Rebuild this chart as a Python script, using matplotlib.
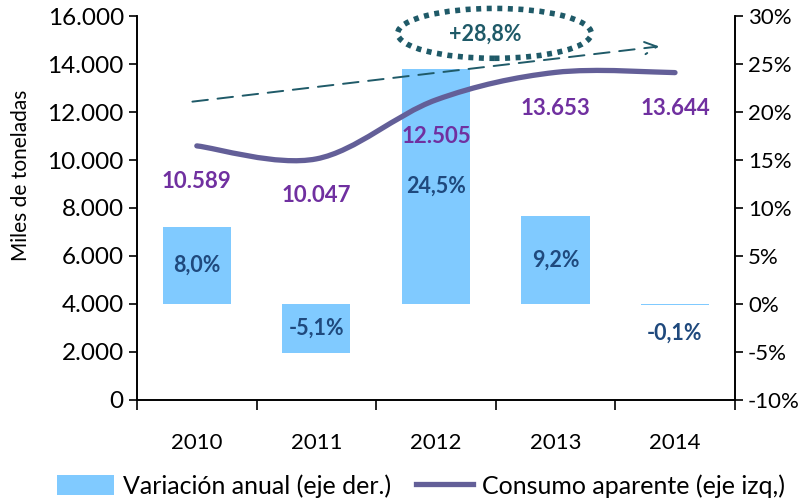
import matplotlib
matplotlib.use("Agg")
import matplotlib.pyplot as plt
from matplotlib.path import Path
from matplotlib.patches import PathPatch, Ellipse, Patch
from matplotlib.lines import Line2D
from matplotlib.ticker import FuncFormatter, FixedLocator

plt.rcParams["font.family"] = ["Lato", "DejaVu Sans"]

years = ["2010", "2011", "2012", "2013", "2014"]
consumo = [10589, 10047, 12505, 13653, 13644]          # miles de toneladas (eje izq.)
variacion = [8.0, -5.1, 24.5, 9.2, -0.1]               # % (eje der.)
consumo_labels = ["10.589", "10.047", "12.505", "13.653", "13.644"]
variacion_labels = ["8,0%", "-5,1%", "24,5%", "9,2%", "-0,1%"]
growth_label = "+28,8%"

BAR_COLOR = "#80CAFF"
LINE_COLOR = "#635F98"
CONSUMO_TXT = "#7030A0"
VAR_TXT = "#1F497D"
TEAL = "#1F5A68"


def smooth_path(xs, ys, tension=1.0):
    """Catmull-Rom style Bezier path through the points (like Excel smoothing)."""
    pts = list(zip(xs, ys))
    verts = [pts[0]]
    codes = [Path.MOVETO]
    n = len(pts)
    for i in range(n - 1):
        p0 = pts[max(i - 1, 0)]
        p1 = pts[i]
        p2 = pts[i + 1]
        p3 = pts[min(i + 2, n - 1)]
        c1 = (p1[0] + (p2[0] - p0[0]) / 6 * tension, p1[1] + (p2[1] - p0[1]) / 6 * tension)
        c2 = (p2[0] - (p3[0] - p1[0]) / 6 * tension, p2[1] - (p3[1] - p1[1]) / 6 * tension)
        verts += [c1, c2, p2]
        codes += [Path.CURVE4] * 3
    return Path(verts, codes)


fig = plt.figure(figsize=(8.11, 5.03), dpi=100)
ax = fig.add_axes([0.169, 0.205, 0.737, 0.763])
ax2 = ax.twinx()

x = list(range(len(years)))

# bars on the right axis
ax2.bar(x, variacion, width=0.57, color=BAR_COLOR, zorder=2)
ax2.set_ylim(-10, 30)
ax2.set_yticks(range(-10, 31, 5))
ax2.yaxis.set_major_formatter(FuncFormatter(lambda v, p: f"{v:.0f}%"))
for xi, v, lab in zip(x, variacion, variacion_labels):
    ypos = v / 2 if abs(v) > 1 else v - 3
    ax2.text(xi, ypos, lab, ha="center", va="center", fontsize=15.5,
             fontweight="bold", color=VAR_TXT)

# line on the left axis, drawn above the bars
ax.set_zorder(ax2.get_zorder() + 1)
ax.patch.set_visible(False)
ax.add_patch(PathPatch(smooth_path(x, consumo), facecolor="none",
                       edgecolor=LINE_COLOR, lw=3.8, capstyle="round"))
ax.set_ylim(0, 16000)
ax.set_xlim(-0.5, len(years) - 0.5)
ax.set_yticks(range(0, 16001, 2000))
ax.yaxis.set_major_formatter(FuncFormatter(lambda v, p: f"{v:,.0f}".replace(",", ".")))
for xi, v, lab in zip(x, consumo, consumo_labels):
    ax.annotate(lab, (xi, v), xytext=(0, -26), textcoords="offset points",
                ha="center", va="center", fontsize=16, fontweight="bold",
                color=CONSUMO_TXT)

ax.set_ylabel("Miles de toneladas", fontsize=15)
ax.yaxis.set_label_coords(-0.178, 0.585)

# x axis: labels at centres, ticks at boundaries
ax.set_xticks(x)
ax.set_xticklabels(years, fontsize=16)
ax.xaxis.set_minor_locator(FixedLocator([i - 0.5 for i in range(len(years) + 1)]))
ax.tick_params(axis="x", which="major", length=0, pad=24)
ax.tick_params(axis="x", which="minor", length=7, width=1.2, direction="out")
ax.tick_params(axis="y", labelsize=17.5, length=6, width=1.2)
ax2.tick_params(axis="y", labelsize=16, length=6, width=1.2)
ax2.tick_params(axis="x", length=0)

for a in (ax, ax2):
    a.spines["top"].set_visible(False)
    for s in ("left", "right", "bottom"):
        a.spines[s].set_linewidth(1.2)

# trend arrow and growth bubble
ax.annotate("", xy=(3.89, 14750), xytext=(-0.06, 12420),
            arrowprops=dict(arrowstyle="->", color=TEAL, lw=1.4,
                            linestyle=(0, (8, 5)), mutation_scale=22))
ax.add_patch(Ellipse((2.49, 15280), 1.62, 2080, facecolor="none",
                     edgecolor=TEAL, lw=4, linestyle=(0, (0.9, 1.0)),
                     clip_on=False))
ax.text(2.41, 15250, growth_label, ha="center", va="center", fontsize=15.5,
        fontweight="bold", color=TEAL, clip_on=False)

handles = [Patch(facecolor=BAR_COLOR), Line2D([], [], color=LINE_COLOR, lw=3.8)]
fig.legend(handles, ["Variación anual (eje der.)", "Consumo aparente (eje izq,)"],
           loc="lower left", bbox_to_anchor=(0.042, -0.034), ncol=2, frameon=False,
           fontsize=18, handlelength=2.3, handleheight=0.85, columnspacing=1.0,
           handletextpad=0.35)

fig.savefig("out.png", dpi=100)
